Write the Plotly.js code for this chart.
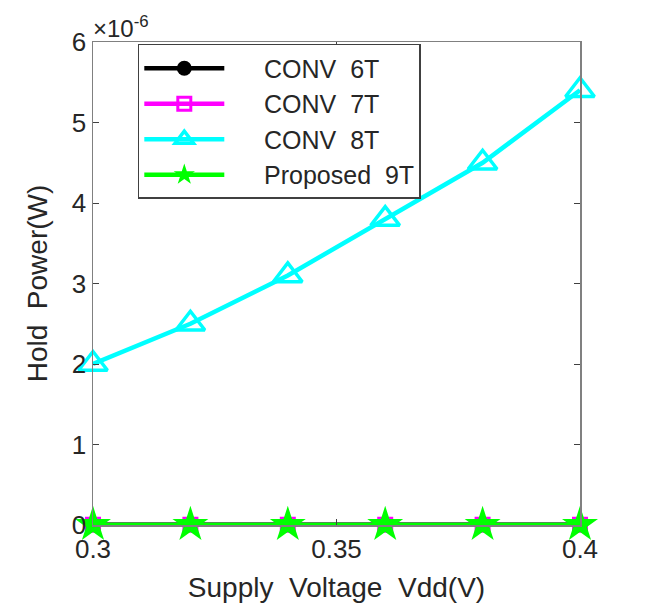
<!DOCTYPE html>
<html>
<head>
<meta charset="utf-8">
<script src="https://cdn.plot.ly/plotly-3.0.1.min.js"></script>
<style>html,body{margin:0;padding:0;background:#fff;}</style>
</head>
<body>
<div id="chart" style="width:649px;height:609px;"></div>
<script>
const vdd = [0.30, 0.32, 0.34, 0.36, 0.38, 0.40];
const conv6T = [0.005e-6, 0.005e-6, 0.005e-6, 0.005e-6, 0.005e-6, 0.005e-6];
const conv7T = [0.004e-6, 0.004e-6, 0.004e-6, 0.004e-6, 0.004e-6, 0.004e-6];
const conv8T = [2.0e-6, 2.5e-6, 3.1e-6, 3.8e-6, 4.5e-6, 5.4e-6];
const prop9T = [0.003e-6, 0.003e-6, 0.003e-6, 0.003e-6, 0.003e-6, 0.003e-6];
const seriesNames = ['CONV  6T', 'CONV  7T', 'CONV  8T', 'Proposed  9T'];
const yTickVals = [0, 1e-6, 2e-6, 3e-6, 4e-6, 5e-6, 6e-6];
const yTickText = ['0', '1', '2', '3', '4', '5', '6'];
const xTickVals = [0.3, 0.35, 0.4];
const xTickText = ['0.3', '0.35', '0.4'];

const pad = '\u00a0\u00a0\u00a0\u00a0\u00a0';
const traces = [
  {x: vdd, y: conv6T, name: pad + seriesNames[0], mode: 'lines+markers', cliponaxis: false,
   line: {color: '#000000', width: 4.5}, marker: {symbol: 'circle', size: 15, color: '#000000'}},
  {x: vdd, y: conv7T, name: pad + seriesNames[1], mode: 'lines+markers', cliponaxis: false,
   line: {color: '#ff00ff', width: 4.5}, marker: {symbol: 'square-open', size: 13, color: '#ff00ff', line: {width: 3, color: '#ff00ff'}}},
  {x: vdd, y: conv8T, name: pad + seriesNames[2], mode: 'lines+markers', cliponaxis: false,
   line: {color: '#00ffff', width: 4.5}, marker: {symbol: 'triangle-up-open', size: 25, color: '#00ffff', line: {width: 3.5, color: '#00ffff'}}},
  {x: vdd, y: prop9T, name: pad + seriesNames[3], mode: 'lines+markers', cliponaxis: false,
   line: {color: '#00ff00', width: 4.5}, marker: {symbol: 'star', size: 27, color: '#00ff00', line: {width: 0}}}
];

const axisCommon = {
  showline: true, mirror: 'ticks', linecolor: '#808080', linewidth: 1.5,
  ticks: 'inside', ticklen: 6, tickcolor: '#404040', showgrid: false, zeroline: false,
  tickfont: {family: 'Liberation Sans, Arial, sans-serif', size: 26, color: '#262626'}
};

const layout = {
  width: 649, height: 609,
  margin: {l: 93, r: 69, t: 42, b: 84},
  paper_bgcolor: '#ffffff', plot_bgcolor: '#ffffff',
  showlegend: true,
  font: {family: 'Liberation Sans, Arial, sans-serif', color: '#262626'},
  xaxis: Object.assign({}, axisCommon, {
    range: [0.3, 0.4], tickvals: xTickVals, ticktext: xTickText,
    title: {text: 'Supply  Voltage  Vdd(V)', font: {size: 28, color: '#262626'}, standoff: 14}
  }),
  yaxis: Object.assign({}, axisCommon, {
    range: [0, 6e-6], tickvals: yTickVals, ticktext: yTickText,
    title: {text: 'Hold  Power(W)', font: {size: 28, color: '#262626'}, standoff: 16}
  }),
  legend: {
    x: 0.092, y: 0.996, xanchor: 'left', yanchor: 'top',
    bgcolor: '#ffffff', bordercolor: '#404040', borderwidth: 1.5,
    font: {size: 25, color: '#262626'}, itemwidth: 80, tracegroupgap: 0
  },
  annotations: [{
    xref: 'paper', yref: 'paper', x: 0, y: 1, xanchor: 'left', yanchor: 'bottom',
    text: '×10<sup>-6</sup>', showarrow: false, xshift: -2, yshift: -2,
    font: {size: 24, color: '#262626'}
  }]
};

Plotly.newPlot('chart', traces, layout, {displayModeBar: false, staticPlot: true});
</script>
</body>
</html>
